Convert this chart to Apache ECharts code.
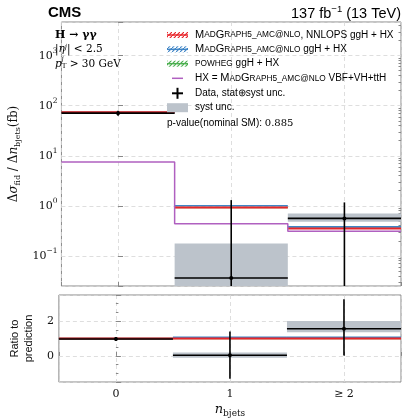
<!DOCTYPE html>
<html><head><meta charset="utf-8">
<script src="https://cdn.jsdelivr.net/npm/echarts@6/dist/echarts.min.js"></script>
<style>html,body{margin:0;padding:0;background:#fff}#c{width:407px;height:419px}</style>
</head><body><div id="c"></div>
<script>
// ---- data ----
const binCenters = [0, 1, 2];
const binLow = [-0.5, 0.5, 1.5];
const binHigh = [0.5, 1.5, 2.5];
const tickLabels = ['0', '1', '\u2265 2'];

const dataXsec   = [71, 0.036, 0.56];
const dataTotLo  = [63, -1.2, -0.05];
const dataTotHi  = [79, 1.3, 1.17];
const dataSystLo = [69, -0.004, 0.48];
const dataSystHi = [73, 0.177, 0.705];
const predNNLOPS = [74, 0.93, 0.353];
const predMG     = [74, 1.0, 0.38];
const predPowheg = [74, 0.93, 0.355];
const predHX     = [7.5, 0.436, 0.31];

const ratioData   = [0.97, 0.04, 1.56];
const ratioTotLo  = [0.86, -1.32, 0.02];
const ratioTotHi  = [1.08, 1.4, 3.25];
const ratioSystLo = [0.94, -0.1, 1.36];
const ratioSystHi = [1.0, 0.2, 2.0];
const ratioNNLOPS = [1, 1, 1];
const ratioMG     = [1.0, 1.07, 1.07];
const ratioPowheg = [1.0, 1.0, 1.0];

const mainMin = 0.025, mainMax = 4700;
const ratioMin = -1.5, ratioMax = 3.5;

const RED = '#e8262b', BLUE = '#3f85c6', GREEN = '#4caf50', PURPLE = '#b060c0', GRAY = '#bcc3cb';
const SERIF = '"DejaVu Serif", serif';
const SANS = '"Liberation Sans", Arial, sans-serif';

const minorVals = [];
for (let k = -2; k <= 3; k++) for (let m = 2; m <= 9; m++) {
  const v = m * Math.pow(10, k);
  if (v > mainMin && v < mainMax) minorVals.push(v);
}

function clampFn(min) { return v => (min == null ? v : Math.max(v, min)); }

function segSeries(xi, yi, vals, color, width, z, cmin) {
  const cl = clampFn(cmin);
  return {
    type: 'custom', xAxisIndex: xi, yAxisIndex: yi, clip: true, z: z, silent: true,
    data: binCenters.map((c, i) => [binLow[i], binHigh[i], vals[i]]),
    encode: { x: [0, 1], y: 2 },
    renderItem: (p, api) => {
      const a = api.coord([api.value(0), cl(api.value(2))]);
      const b = api.coord([api.value(1), cl(api.value(2))]);
      return { type: 'line', shape: { x1: a[0], y1: a[1], x2: b[0], y2: b[1] },
        style: { stroke: color, lineWidth: width } };
    }
  };
}
function bandSeries(xi, yi, lo, hi, color, z, cmin) {
  const cl = clampFn(cmin);
  return {
    type: 'custom', xAxisIndex: xi, yAxisIndex: yi, clip: true, z: z, silent: true,
    data: binCenters.map((c, i) => [binLow[i], binHigh[i], lo[i], hi[i]]),
    encode: { x: [0, 1], y: [2, 3] },
    renderItem: (p, api) => {
      const a = api.coord([api.value(0), cl(api.value(3))]);
      const b = api.coord([api.value(1), cl(api.value(2))]);
      return { type: 'rect', shape: { x: a[0], y: a[1], width: b[0] - a[0], height: b[1] - a[1] },
        style: { fill: color } };
    }
  };
}
function dataSeries(xi, yi, val, lo, hi, z, cmin) {
  const cl = clampFn(cmin);
  return {
    type: 'custom', xAxisIndex: xi, yAxisIndex: yi, clip: true, z: z, silent: true,
    data: binCenters.map((c, i) => [c, binLow[i], binHigh[i], val[i], lo[i], hi[i]]),
    encode: { x: [0, 1, 2], y: [3] },
    renderItem: (p, api) => {
      const c = api.value(0);
      const l = api.coord([api.value(1), cl(api.value(3))]);
      const r = api.coord([api.value(2), cl(api.value(3))]);
      const t = api.coord([c, cl(api.value(5))]);
      const b = api.coord([c, cl(api.value(4))]);
      const m = api.coord([c, cl(api.value(3))]);
      return { type: 'group', children: [
        { type: 'line', shape: { x1: l[0], y1: l[1], x2: r[0], y2: r[1] }, style: { stroke: '#000', lineWidth: 1.6 } },
        { type: 'line', shape: { x1: t[0], y1: t[1], x2: b[0], y2: b[1] }, style: { stroke: '#000', lineWidth: 1.6 } },
        { type: 'circle', shape: { cx: m[0], cy: m[1], r: 2 }, style: { fill: '#000' } }
      ] };
    }
  };
}

const hxSteps = binLow.map((x, i) => [x, predHX[i]]).concat([[binHigh[2], predHX[2]]]);

const splitStyle = { show: true, lineStyle: { color: '#d6d6d6', type: [4, 3], width: 0.8 } };
const tickFont = { fontFamily: SERIF, fontSize: 11, color: '#111' };

function hatch(color) {
  const c = document.createElement('canvas'); c.width = 4; c.height = 4;
  const g = c.getContext('2d'); g.strokeStyle = color; g.lineWidth = 1.2;
  g.beginPath(); g.moveTo(-1, 5); g.lineTo(5, -1); g.stroke();
  return { image: c, repeat: 'repeat' };
}

const capsRich = {
  c: { fontFamily: SANS, fontSize: 11, color: '#111' },
  s: { fontFamily: SANS, fontSize: 8.3, color: '#111' },
  n: { fontFamily: SANS, fontSize: 10, color: '#111' },
  g: { fontFamily: SANS, fontSize: 10, color: '#bbb' },
  m: { fontFamily: SERIF, fontSize: 10, color: '#111' }
};
const legendRows = [
  { y: 35, kind: 'hatch', color: RED, text: '{c|M}{s|AD}{c|G}{s|RAPH5_AMC@NLO}{n|, NNLOPS ggH + HX}' },
  { y: 49.3, kind: 'hatch', color: BLUE, text: '{c|M}{s|AD}{c|G}{s|RAPH5_AMC@NLO}{n| ggH + HX}' },
  { y: 63.7, kind: 'hatch', color: GREEN, text: '{s|POWHEG}{n| ggH + HX}' },
  { y: 78.3, kind: 'line', color: PURPLE, text: '{n|HX = }{c|M}{s|AD}{c|G}{s|RAPH5_AMC@NLO}{n| VBF+VH+ttH}' },
  { y: 93.3, kind: 'cross', color: '#000', text: '{n|Data, stat}{g|\u2295}{n|syst unc.}' },
  { y: 107.7, kind: 'rect', color: GRAY, text: '{n|syst unc.}' }
];
const graphics = [];
legendRows.forEach(r => {
  if (r.kind === 'hatch') {
    graphics.push({ type: 'rect', shape: { x: 167, y: r.y - 3, width: 21, height: 6 }, style: { fill: hatch(r.color) }, z: 10 });
    graphics.push({ type: 'line', shape: { x1: 167, y1: r.y, x2: 188, y2: r.y }, style: { stroke: r.color, lineWidth: 1.5 }, z: 10 });
  } else if (r.kind === 'line') {
    graphics.push({ type: 'line', shape: { x1: 172, y1: r.y, x2: 183, y2: r.y }, style: { stroke: r.color, lineWidth: 1.5 }, z: 10 });
  } else if (r.kind === 'cross') {
    graphics.push({ type: 'line', shape: { x1: 172, y1: r.y, x2: 183, y2: r.y }, style: { stroke: '#000', lineWidth: 2 }, z: 10 });
    graphics.push({ type: 'line', shape: { x1: 177.5, y1: r.y - 5.5, x2: 177.5, y2: r.y + 5.5 }, style: { stroke: '#000', lineWidth: 2 }, z: 10 });
  } else {
    graphics.push({ type: 'rect', shape: { x: 167, y: r.y - 4.5, width: 21, height: 9 }, style: { fill: r.color }, z: 10 });
  }
  graphics.push({ type: 'text', x: 195, y: r.y, z: 10, style: { text: r.text, rich: capsRich, verticalAlign: 'middle', align: 'left' } });
});
graphics.push({ type: 'text', x: 167, y: 123.3, z: 10, style: { text: '{n|p-value(nominal SM): }{m|0.885}', rich: capsRich, verticalAlign: 'middle' } });

const mathRich = {
  b: { fontFamily: SERIF, fontSize: 11, fontWeight: 'bold', color: '#111' },
  r: { fontFamily: SERIF, fontSize: 10.5, color: '#111' },
  i: { fontFamily: SERIF, fontSize: 10.5, fontStyle: 'italic', color: '#111' },
  sup: { fontFamily: SERIF, fontSize: 7, fontStyle: 'italic', color: '#111', verticalAlign: 'top', lineHeight: 8 },
  sub: { fontFamily: SERIF, fontSize: 7, color: '#111', verticalAlign: 'bottom', lineHeight: 8 }
};
graphics.push({ type: 'text', x: 55, y: 35, z: 10, style: { text: '{b|H \u2192 \u03b3\u03b3}', rich: mathRich, verticalAlign: 'middle' } });
graphics.push({ type: 'text', x: 55, y: 49, z: 10, style: { text: '{r||}{i|\u03b7}{sup|j}{r|| < 2.5}', rich: mathRich, verticalAlign: 'middle' } });
graphics.push({ type: 'text', x: 55, y: 64, z: 10, style: { text: '{i|p}{sub|T}{r| > 30 GeV}', rich: mathRich, verticalAlign: 'middle' } });
graphics.push({ type: 'text', x: 61.5, y: 59.5, z: 10, style: { text: 'j', font: 'italic 7px ' + SERIF, fill: '#111', verticalAlign: 'middle' } });

graphics.push({ type: 'text', x: 48, y: 13, z: 10, style: { text: 'CMS', font: 'bold 15px ' + SANS, fill: '#000', verticalAlign: 'middle' } });
graphics.push({ type: 'text', x: 401, y: 13.5, z: 10, style: {
  text: '{n|137 fb}{e|\u22121}{n| (13 TeV)}', align: 'right', verticalAlign: 'middle',
  rich: { n: { fontFamily: SANS, fontSize: 14.5, color: '#000', lineHeight: 18 }, e: { fontFamily: SANS, fontSize: 9.5, color: '#000', verticalAlign: 'top', lineHeight: 9 } } } });

const chart = echarts.init(document.getElementById('c'), null, { renderer: 'canvas' });
chart.setOption({
  animation: false,
  backgroundColor: '#fff',
  grid: [
    { left: 48, width: 353, top: 22, height: 264, show: true, borderColor: '#888', borderWidth: 1, backgroundColor: 'transparent' },
    { left: 48, width: 353, top: 295, height: 87, show: true, borderColor: '#888', borderWidth: 1, backgroundColor: 'transparent' }
  ],
  xAxis: [
    { gridIndex: 0, type: 'value', min: -0.5, max: 2.5, splitNumber: 3,
      axisLine: { show: false }, axisLabel: { show: false },
      axisTick: { inside: true, length: 4, lineStyle: { color: '#888' } }, splitLine: splitStyle },
    { gridIndex: 1, type: 'value', min: -0.5, max: 2.5, splitNumber: 3,
      axisLine: { show: false },
      axisTick: { inside: true, length: 4, lineStyle: { color: '#888' } }, splitLine: splitStyle,
      axisLabel: Object.assign({ margin: 7, formatter: v => { const i = binCenters.indexOf(v); return i < 0 ? '' : tickLabels[i]; } }, tickFont),
      name: '{i|n}{s|bjets}', nameLocation: 'middle', nameGap: 20,
      nameTextStyle: { rich: {
        i: { fontFamily: SERIF, fontStyle: 'italic', fontSize: 13, color: '#111', lineHeight: 16 },
        s: { fontFamily: SERIF, fontSize: 9, color: '#111', verticalAlign: 'bottom', lineHeight: 11 } } } }
  ],
  yAxis: [
    { gridIndex: 0, type: 'log', logBase: 10, min: mainMin, max: mainMax,
      axisLine: { show: false },
      axisTick: { inside: true, length: 5, lineStyle: { color: '#888' } }, splitLine: splitStyle,
      axisLabel: { margin: 4, formatter: v => {
          const e = Math.round(Math.log10(v));
          if (Math.abs(v - Math.pow(10, e)) > 1e-6 * v) return '';
          return '{b|10}{e|' + (e < 0 ? '\u2212' + (-e) : e) + '}';
        },
        rich: { b: { fontFamily: SERIF, fontSize: 11, color: '#111', lineHeight: 18 },
                e: { fontFamily: SERIF, fontSize: 7.5, color: '#111', verticalAlign: 'top', lineHeight: 8 } } },
      name: '{d|\u0394}{i|\u03c3}{s|fid}{d| / \u0394}{i|n}{s|bjets}{d|(fb)}', nameLocation: 'middle', nameGap: 23, nameRotate: 90,
      nameTextStyle: { rich: {
        d: { fontFamily: SERIF, fontSize: 12, color: '#111', lineHeight: 15 },
        i: { fontFamily: SERIF, fontStyle: 'italic', fontSize: 12, color: '#111', lineHeight: 15 },
        s: { fontFamily: SERIF, fontSize: 8, color: '#111', verticalAlign: 'bottom', lineHeight: 9 } } } },
    { gridIndex: 0, type: 'log', logBase: 10, min: mainMin, max: mainMax,
      axisLine: { show: false }, axisLabel: { show: false }, splitLine: { show: false },
      axisTick: { inside: true, length: 2.5, customValues: minorVals, lineStyle: { color: '#888' } } },
    { gridIndex: 1, type: 'value', min: ratioMin, max: ratioMax, splitNumber: 3,
      axisLine: { show: false },
      axisTick: { inside: true, length: 5, lineStyle: { color: '#888' } }, splitLine: splitStyle,
      minorTick: { show: true, splitNumber: 4, length: 2.5, lineStyle: { color: '#888' } },
      axisLabel: Object.assign({ margin: 5, formatter: v => (v === 0 || v === 2) ? String(v) : '' }, tickFont),
      name: 'Ratio to\nprediction', nameLocation: 'middle', nameGap: 14, nameRotate: 90,
      nameTextStyle: { fontFamily: SANS, fontSize: 11, color: '#111', lineHeight: 14 } }
  ],
  series: [
    bandSeries(0, 0, dataSystLo, dataSystHi, GRAY, 1, mainMin),
    segSeries(0, 0, predPowheg, GREEN, 1.5, 2, mainMin),
    segSeries(0, 0, predMG, BLUE, 1.6, 3, mainMin),
    segSeries(0, 0, predNNLOPS, RED, 2, 4, mainMin),
    { type: 'line', xAxisIndex: 0, yAxisIndex: 0, data: hxSteps, step: 'end', symbol: 'none', z: 5, silent: true,
      lineStyle: { color: PURPLE, width: 1.5 } },
    dataSeries(0, 0, dataXsec, dataTotLo, dataTotHi, 6, mainMin),

    bandSeries(1, 2, ratioSystLo, ratioSystHi, GRAY, 1),
    segSeries(1, 2, ratioPowheg, GREEN, 1.5, 2),
    segSeries(1, 2, ratioMG, BLUE, 1.6, 3),
    segSeries(1, 2, ratioNNLOPS, RED, 2, 4),
    dataSeries(1, 2, ratioData, ratioTotLo, ratioTotHi, 6)
  ],
  graphic: { elements: graphics }
});
</script></body></html>
